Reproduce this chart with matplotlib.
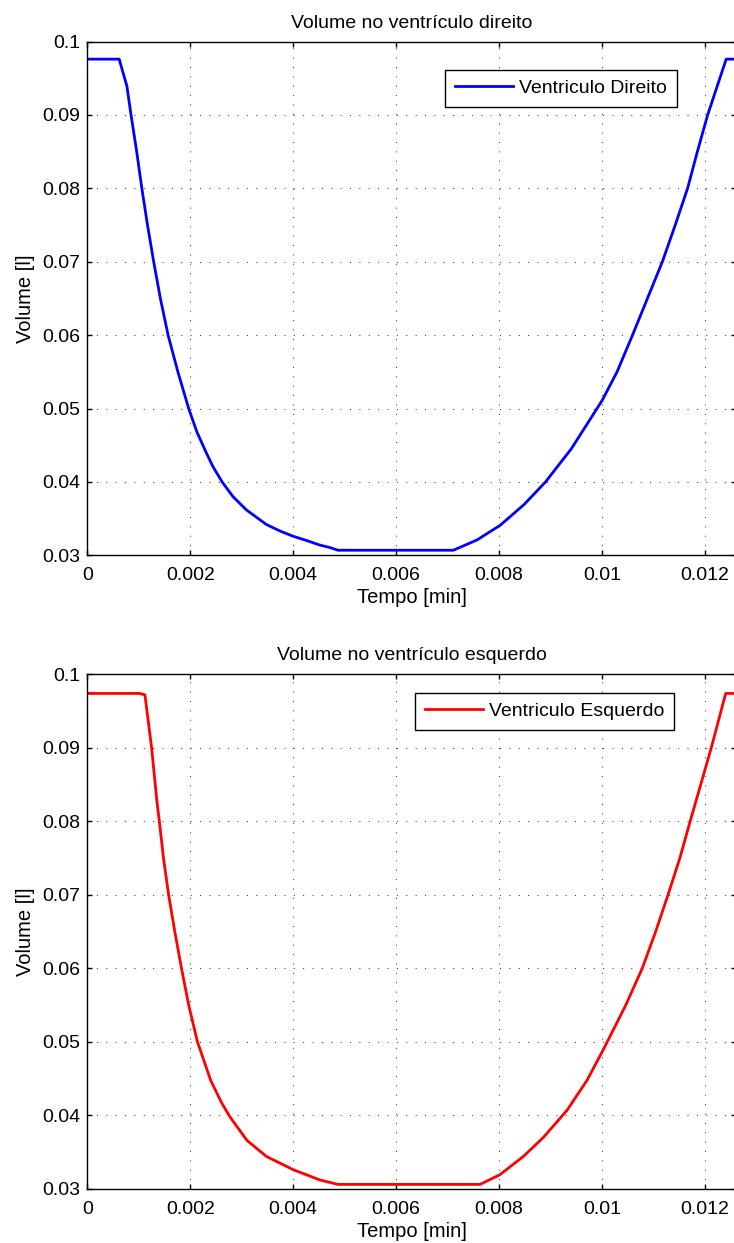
import numpy as np
import matplotlib.pyplot as plt
from matplotlib.ticker import FuncFormatter

plt.rcParams['font.family'] = ['Liberation Sans', 'DejaVu Sans']
plt.rcParams['font.size'] = 14

# volume no ventriculo direito [l] vs tempo [min]
t_dir = [0, 0.00062, 0.00077, 0.00085, 0.00096, 0.00106, 0.00117, 0.00129,
         0.00142, 0.00157, 0.00176, 0.00197, 0.00213, 0.00231, 0.00244,
         0.00262, 0.00283, 0.00309, 0.00348, 0.00375, 0.00400, 0.00427,
         0.00452, 0.00472, 0.00487, 0.00711, 0.00757, 0.00802, 0.00848,
         0.00890, 0.00940, 0.01000, 0.01029, 0.01059, 0.01088, 0.01117,
         0.01142, 0.01166, 0.01185, 0.01205, 0.01241, 0.0126]
v_dir = [0.0976, 0.0976, 0.0939, 0.09, 0.085, 0.08, 0.075, 0.07,
         0.065, 0.06, 0.055, 0.05, 0.0468, 0.0440, 0.0421,
         0.04, 0.0380, 0.0362, 0.0342, 0.0333, 0.0326, 0.0320,
         0.0314, 0.03105, 0.0307, 0.0307, 0.0321, 0.0341, 0.0369,
         0.04, 0.0445, 0.0511, 0.055, 0.06, 0.065, 0.07,
         0.075, 0.08, 0.085, 0.09, 0.0976, 0.0976]

# volume no ventriculo esquerdo
t_esq = [0, 0.00102, 0.00112, 0.00125, 0.00135, 0.00140, 0.00148, 0.00158,
         0.00170, 0.00183, 0.00197, 0.00214, 0.00240, 0.00261,
         0.00277, 0.00310, 0.00348, 0.00400, 0.00452, 0.00487, 0.00763,
         0.00801, 0.00847, 0.00886, 0.00932, 0.00971, 0.01002, 0.01046,
         0.01078, 0.01104, 0.01128, 0.01151, 0.01171, 0.01212, 0.01240,
         0.0126]
v_esq = [0.0974, 0.0974, 0.0972, 0.09, 0.0829, 0.08, 0.075, 0.07,
         0.065, 0.06, 0.055, 0.05, 0.0447, 0.0417,
         0.0398, 0.0366, 0.0344, 0.0326, 0.0312, 0.0306, 0.0306,
         0.0319, 0.0344, 0.0370, 0.0407, 0.0448, 0.0489, 0.055,
         0.06, 0.065, 0.07, 0.075, 0.08, 0.09, 0.0974,
         0.0974]

x_ticks = [0, 0.002, 0.004, 0.006, 0.008, 0.01, 0.012]
y_ticks = [0.03, 0.04, 0.05, 0.06, 0.07, 0.08, 0.09, 0.1]

fig = plt.figure(figsize=(7.34, 12.43), dpi=100)
ax1 = fig.add_axes([0.1189, 0.5532, 0.8838, 0.4134])
ax2 = fig.add_axes([0.1189, 0.0436, 0.8838, 0.4139])

fmt = FuncFormatter(lambda v, p: '%g' % round(v, 6))

def style(ax, title, leg_anchor):
    ax.set_xlim(0, 0.0126)
    ax.set_ylim(0.03, 0.1)
    ax.set_xticks(x_ticks)
    ax.set_yticks(y_ticks)
    ax.xaxis.set_major_formatter(fmt)
    ax.yaxis.set_major_formatter(fmt)
    ax.tick_params(direction='in', top=True, right=True, length=3.5,
                   width=1, labelsize=14)
    ax.tick_params(axis='x', pad=8.5)
    ax.tick_params(axis='y', pad=5)
    ax.grid(True, linestyle=(0, (1, 8)), linewidth=0.75, color='0.25')
    for s in ax.spines.values():
        s.set_linewidth(1.0)
    ax.set_title(title, fontsize=14, pad=10)
    ax.set_xlabel('Tempo [min]', fontsize=14.5, labelpad=3)
    ax.set_ylabel('Volume [l]', fontsize=14.5, labelpad=5)
    leg = ax.legend(loc='upper right', bbox_to_anchor=leg_anchor,
                    borderaxespad=0, fancybox=False, framealpha=1,
                    edgecolor='k', borderpad=0.5, handlelength=3.0,
                    handletextpad=0.3, fontsize=14)
    leg.get_frame().set_linewidth(1.0)

ax1.plot(t_dir, v_dir, color=(0, 0, 1), lw=2.0, label='Ventriculo Direito')
style(ax1, 'Volume no ventrículo direito', (0.9086, 0.9447))

ax2.plot(t_esq, v_esq, color=(1, 0, 0), lw=2.0, label='Ventriculo Esquerdo')
style(ax2, 'Volume no ventrículo esquerdo', (0.9044, 0.9642))

fig.savefig('out.png', dpi=100)
